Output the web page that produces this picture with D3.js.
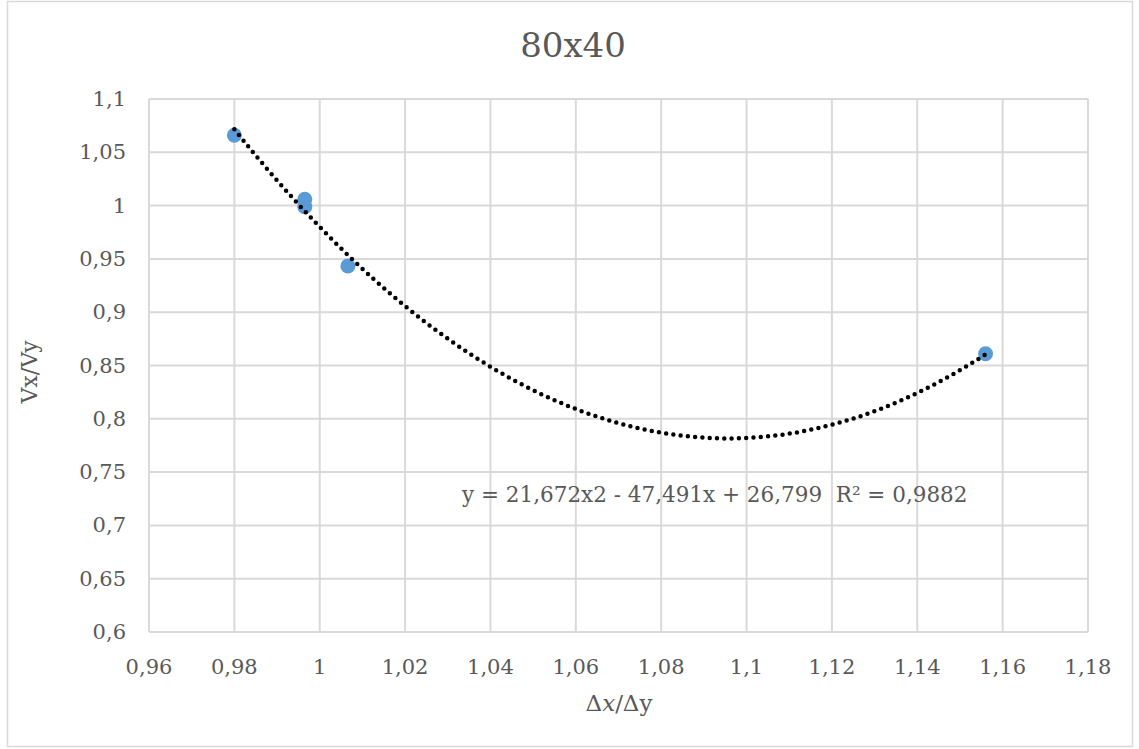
<!DOCTYPE html>
<html><head><meta charset="utf-8">
<script src="https://cdn.jsdelivr.net/npm/d3@7"></script>
<style>body{margin:0;background:#fff;} text{font-family:"DejaVu Serif",serif;fill:#595959;}</style>
</head><body>
<svg id="c" width="1139" height="749"></svg>
<script>
const title = "80x40";
const xTicks = [0.96,0.98,1.00,1.02,1.04,1.06,1.08,1.10,1.12,1.14,1.16,1.18];
const yTicks = [0.6,0.65,0.7,0.75,0.8,0.85,0.9,0.95,1.0,1.05,1.1];
const xValues = [0.980, 0.9965, 0.9965, 1.0066, 1.156];
const yValues = [1.066, 1.006, 0.999, 0.9433, 0.861];
const trendCoeffs = [21.672, -47.491, 26.799];
const trendLabel = "y = 21,672x2 - 47,491x + 26,799  R² = 0,9882";

const svg = d3.select("#c");
const fmt = v => String(+v.toFixed(2)).replace(".", ",");
const x = d3.scaleLinear().domain([0.96,1.18]).range([149,1088]);
const y = d3.scaleLinear().domain([0.6,1.1]).range([632,99]);

svg.append("rect").attr("x",7.5).attr("y",1.5).attr("width",1125).attr("height",745)
  .attr("fill","#fff").attr("stroke","#D9D9D9").attr("stroke-width",1.5);

const grid = svg.append("g");
grid.selectAll(".gx").data(xTicks).join("line")
  .attr("x1",d=>x(d)).attr("x2",d=>x(d)).attr("y1",y(0.6)).attr("y2",y(1.1))
  .attr("stroke","#D9D9D9").attr("stroke-width",2);
grid.selectAll(".gy").data(yTicks).join("line")
  .attr("y1",d=>y(d)).attr("y2",d=>y(d)).attr("x1",x(0.96)).attr("x2",x(1.18))
  .attr("stroke","#D9D9D9").attr("stroke-width",2);

svg.append("g").selectAll("text").data(xTicks).join("text")
  .attr("x",d=>x(d)).attr("y",674).attr("text-anchor","middle").attr("font-size",21).text(fmt);
svg.append("g").selectAll("text").data(yTicks).join("text")
  .attr("x",126).attr("y",d=>y(d)+7).attr("text-anchor","end").attr("font-size",21).text(fmt);

svg.append("text").attr("x",573).attr("y",57).attr("text-anchor","middle").attr("font-size",34).text(title);
const xt = svg.append("text").attr("x",619).attr("y",711).attr("text-anchor","middle").attr("font-size",23);
xt.append("tspan").text("Δ");
xt.append("tspan").attr("font-style","italic").text("x");
xt.append("tspan").text("/Δy");
svg.append("text").attr("transform","translate(37,372) rotate(-90)").attr("text-anchor","middle").attr("font-size",22).text("Vx/Vy");

const pts = d3.zip(xValues,yValues);
svg.append("g").selectAll("circle").data(pts).join("circle")
  .attr("cx",d=>x(d[0])).attr("cy",d=>y(d[1])).attr("r",7.5).attr("fill","#5B9BD5");

const xmin = d3.min(xValues), xmax = d3.max(xValues);
const trendX = d3.range(0,201).map(i => xmin + (xmax-xmin)*i/200);
const f = t => trendCoeffs[0]*t*t + trendCoeffs[1]*t + trendCoeffs[2];
svg.append("path").datum(trendX)
  .attr("d", d3.line().x(t=>x(t)).y(t=>y(f(t))))
  .attr("fill","none").attr("stroke","#000").attr("stroke-width",4.5)
  .attr("stroke-linecap","round").attr("stroke-dasharray","0 7.3");

svg.append("text").attr("x",462).attr("y",502).attr("font-size",21.5).attr("xml:space","preserve").style("white-space","pre").text(trendLabel);
</script>
</body></html>
